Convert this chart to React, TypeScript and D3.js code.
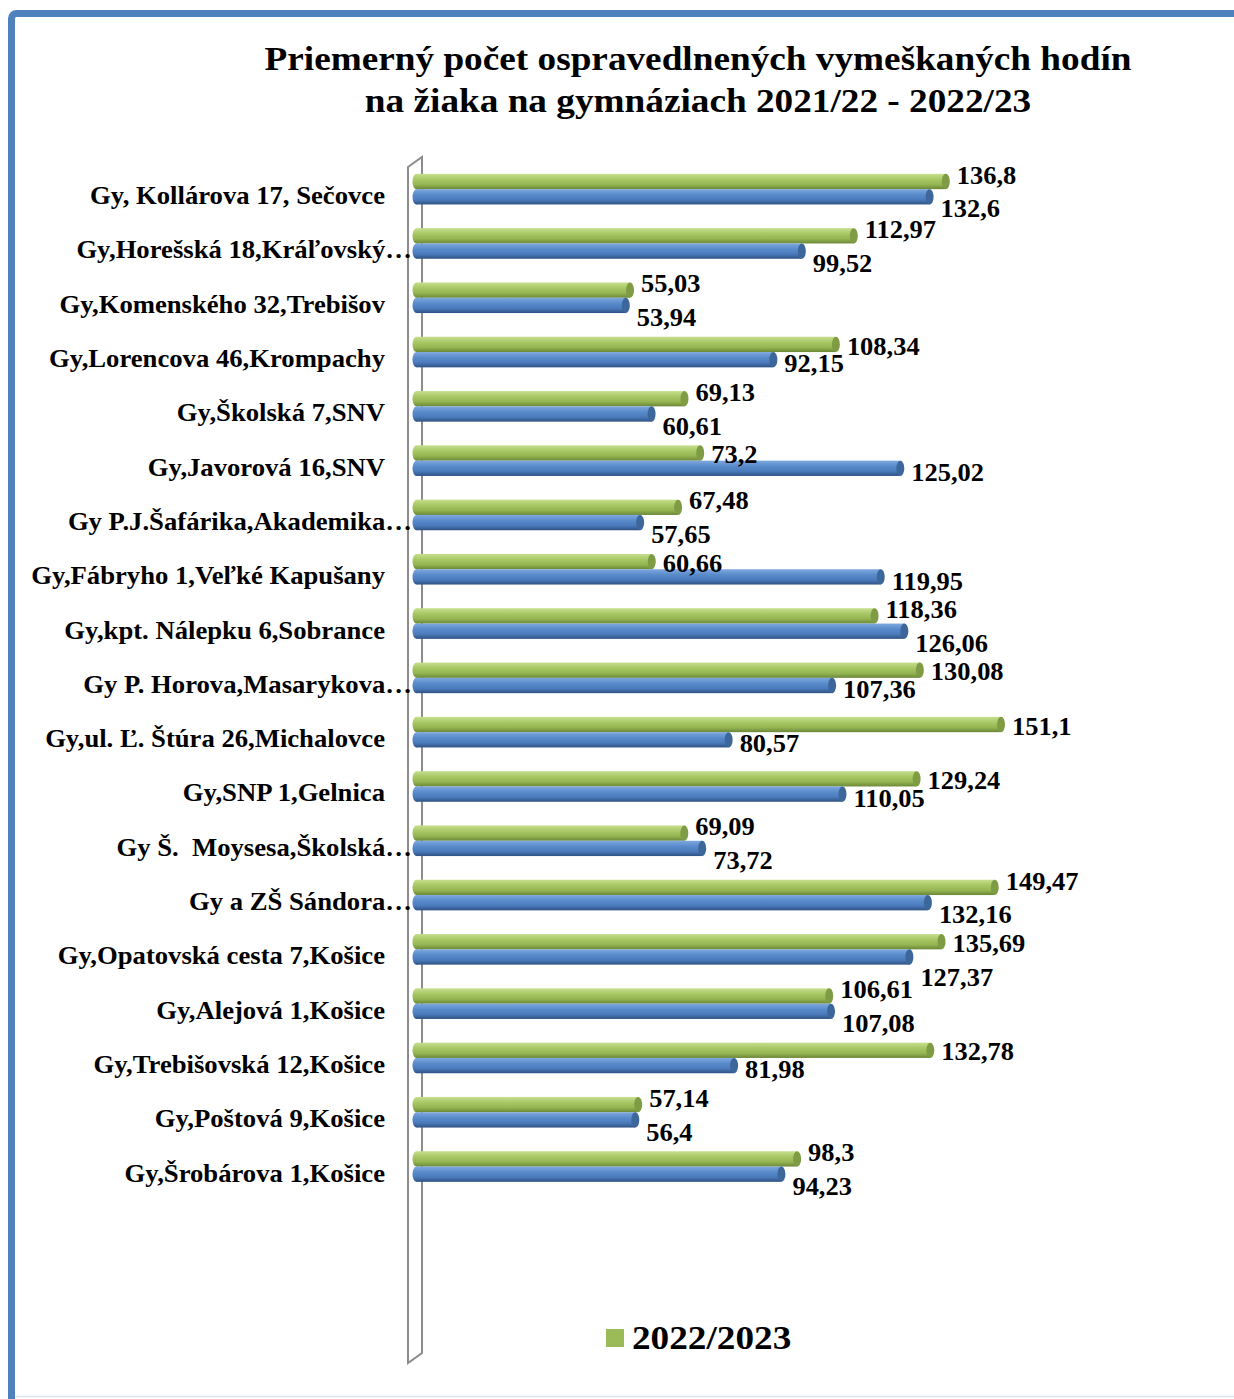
import React from "react";
import * as d3 from "d3";

const categories = [
  "Gy, Kollárova 17, Sečovce",
  "Gy,Horešská 18,Kráľovský…",
  "Gy,Komenského 32,Trebišov",
  "Gy,Lorencova 46,Krompachy",
  "Gy,Školská 7,SNV",
  "Gy,Javorová 16,SNV",
  "Gy P.J.Šafárika,Akademika…",
  "Gy,Fábryho 1,Veľké Kapušany",
  "Gy,kpt. Nálepku 6,Sobrance",
  "Gy P. Horova,Masarykova…",
  "Gy,ul. Ľ. Štúra 26,Michalovce",
  "Gy,SNP 1,Gelnica",
  "Gy Š.  Moysesa,Školská…",
  "Gy a ZŠ Sándora…",
  "Gy,Opatovská cesta 7,Košice",
  "Gy,Alejová 1,Košice",
  "Gy,Trebišovská 12,Košice",
  "Gy,Poštová 9,Košice",
  "Gy,Šrobárova 1,Košice",
];

const values2022 = [
  136.8, 112.97, 55.03, 108.34, 69.13, 73.2, 67.48, 60.66, 118.36, 130.08,
  151.1, 129.24, 69.09, 149.47, 135.69, 106.61, 132.78, 57.14, 98.3,
];

const values2021 = [
  132.6, 99.52, 53.94, 92.15, 60.61, 125.02, 57.65, 119.95, 126.06, 107.36,
  80.57, 110.05, 73.72, 132.16, 127.37, 107.08, 81.98, 56.4, 94.23,
];

const titleLines = [
  "Priemerný počet ospravedlnených vymeškaných hodín",
  "na žiaka na gymnáziach 2021/22 - 2022/23",
];
const legendLabel = "2022/2023";

const W = 1234;
const H = 1399;
const font = "'Liberation Serif', 'Times New Roman', serif";
const stretch = 1.08; // reference text is a little wider than Liberation Serif

const fmt = (v: number) => String(v).replace(".", ",");
// rough width of a data label (digits ~0.5em, comma ~0.25em)
const labelW = (s: string, size: number) =>
  s.split("").reduce((w, ch) => w + (ch === "," ? 0.25 : 0.5), 0) * size * stretch;

// bold serif text, stretched horizontally
const T = ({ x, y, size, anchor = "start", baseline, children }: any) => (
  <g transform={`translate(${x},${y}) scale(${stretch},1)`}>
    <text
      textAnchor={anchor}
      dominantBaseline={baseline}
      fontFamily={font}
      fontWeight="bold"
      fontSize={size}
      fill="#000"
      style={{ whiteSpace: "pre" }}
    >
      {children}
    </text>
  </g>
);

export default function App() {
  const x = d3.scaleLinear().domain([0, 160]).range([417.5, 1035.4]);
  const y = d3.scaleBand<string>().domain(categories).range([162, 1193.7]);
  const barH = 15.3;
  const x0 = x(0);
  const labelSize = 24.5;

  // label extents along x
  const span = (v: number) => {
    const a = x(v) + 11;
    return [a, a + labelW(fmt(v), labelSize)];
  };
  const hit = (p: number[], q: number[]) => p[0] < q[1] && q[0] < p[1];

  // vertical nudges: spread a row's two labels apart when they overlap,
  // and keep a raised green label clear of the previous row's lowered blue one
  const gPush = categories.map(() => 0);
  const bPush = categories.map(() => 0);
  categories.forEach((_, i) => {
    const g = span(values2022[i]);
    const b = span(values2021[i]);
    if (!hit(g, b)) return;
    gPush[i] = -8;
    bPush[i] = 8;
    if (i > 0 && bPush[i - 1] > 0 && hit(g, span(values2021[i - 1]))) {
      gPush[i] = 0;
      bPush[i] = 16;
    }
  });

  // two series: green on top, blue below
  const series = [
    { key: "g", values: values2022, offset: -barH, grad: "gradGreen", cap: "#7f9c45", dy: 2, push: gPush },
    { key: "b", values: values2021, offset: 0, grad: "gradBlue", cap: "#3d669b", dy: 4.5, push: bPush },
  ];

  return (
    <svg
      width={W}
      height={H}
      style={{ position: "absolute", left: 0, top: 0, background: "#fff" }}
    >
      <defs>
        <linearGradient id="gradGreen" x1="0" y1="0" x2="0" y2="1">
          <stop offset="0" stopColor="#c6df8e" />
          <stop offset="0.35" stopColor="#a9c866" />
          <stop offset="0.7" stopColor="#94b552" />
          <stop offset="1" stopColor="#6b8736" />
        </linearGradient>
        <linearGradient id="gradBlue" x1="0" y1="0" x2="0" y2="1">
          <stop offset="0" stopColor="#7fa8de" />
          <stop offset="0.35" stopColor="#5a8ccc" />
          <stop offset="0.7" stopColor="#4a7abb" />
          <stop offset="1" stopColor="#2f5283" />
        </linearGradient>
      </defs>

      {/* outer frame */}
      <rect x={11.5} y={13.5} width={1400} height={1500} rx={5} fill="none" stroke="#4f81bd" strokeWidth={7} />
      <line x1={15} x2={W} y1={1396.5} y2={1396.5} stroke="#dce6f2" strokeWidth={1.5} />

      {/* title */}
      {titleLines.map((t, i) => (
        <T key={i} x={698} y={70 + i * 42} size={34.5} anchor="middle">
          {t}
        </T>
      ))}

      {/* 3d wall */}
      <path
        d={`M${x0 - 9.5},167 L${x0 + 4.5},157 L${x0 + 4.5},1353 L${x0 - 9.5},1363 Z`}
        fill="#fff"
        stroke="#8c8c8c"
        strokeWidth={2}
      />

      {/* category labels */}
      {categories.map((c) => {
        const cy = (y(c) ?? 0) + y.bandwidth() / 2;
        const trunc = c.endsWith("…");
        return (
          <T key={c} x={trunc ? 412 : 385} y={cy + 15} size={24.7} anchor="end">
            {c}
          </T>
        );
      })}

      {/* bars */}
      {series.map((s) =>
        categories.map((c, i) => {
          const top = (y(c) ?? 0) + y.bandwidth() / 2 + s.offset;
          const xe = x(s.values[i]);
          return (
            <g key={s.key + i}>
              <ellipse cx={x0 - 1} cy={top + barH / 2} rx={4} ry={barH / 2} fill={`url(#${s.grad})`} />
              <rect x={x0 - 1} y={top} width={xe - x0 + 1} height={barH} fill={`url(#${s.grad})`} />
              <ellipse cx={xe} cy={top + barH / 2} rx={4} ry={barH / 2} fill={s.cap} />
            </g>
          );
        })
      )}

      {/* data labels */}
      {series.map((s) =>
        categories.map((c, i) => {
          const cy = (y(c) ?? 0) + y.bandwidth() / 2 + s.offset + barH / 2 + s.dy + s.push[i];
          return (
            <T key={"l" + s.key + i} x={x(s.values[i]) + 11} y={cy} size={labelSize} baseline="central">
              {fmt(s.values[i])}
            </T>
          );
        })
      )}

      {/* legend */}
      <rect x={606} y={1329} width={18} height={18} fill="#9bbb59" />
      <T x={632} y={1349} size={34.5}>
        {legendLabel}
      </T>
    </svg>
  );
}
